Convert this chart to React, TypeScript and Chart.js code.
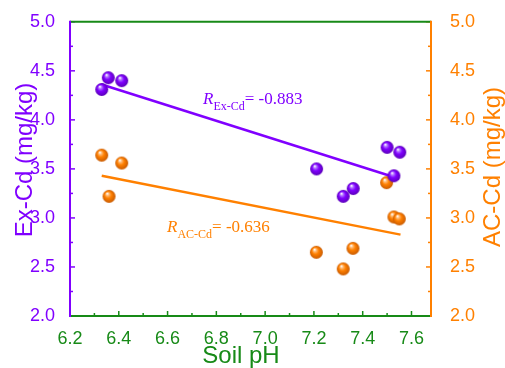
import React, { useEffect, useRef } from "react";
import { Chart, registerables } from "chart.js";
Chart.register(...registerables);

// Ex-Cd (left axis, purple)
const pHEx = [6.33, 6.357, 6.412, 7.211, 7.32, 7.361, 7.5, 7.528, 7.552];
const exCd = [4.31, 4.43, 4.4, 3.5, 3.22, 3.3, 3.72, 3.43, 3.67];
// AC-Cd (right axis, orange)
const pHAC = [6.33, 6.36, 6.412, 7.21, 7.32, 7.36, 7.498, 7.528, 7.55];
const acCd = [3.64, 3.22, 3.56, 2.65, 2.48, 2.69, 3.36, 3.01, 2.99];
// fitted lines (end points)
const exFitX = [6.33, 7.55];
const exFitY = [4.36, 3.4];
const acFitX = [6.33, 7.555];
const acFitY = [3.43, 2.83];
// ticks
const xTicks = [6.2, 6.4, 6.6, 6.8, 7.0, 7.2, 7.4, 7.6];
const xMinor = [6.3, 6.5, 6.7, 6.9, 7.1, 7.3, 7.5];
const yTicks = [2.0, 2.5, 3.0, 3.5, 4.0, 4.5, 5.0];
const yMinor = [2.25, 2.75, 3.25, 3.75, 4.25, 4.75];
const rEx = "-0.883";
const rAC = "-0.636";

const PURPLE = "#8000ff";
const ORANGE = "#ff8000";
const GREEN = "#178a17";

function makeBall(color: string, light: string, dark: string, r: number) {
  const c = document.createElement("canvas");
  const s = Math.ceil(2 * r + 2);
  c.width = s;
  c.height = s;
  const ctx = c.getContext("2d")!;
  const cx = s / 2, cy = s / 2;
  const g = ctx.createRadialGradient(cx - r * 0.3, cy - r * 0.45, r * 0.05, cx, cy, r);
  g.addColorStop(0, "#ffffff");
  g.addColorStop(0.22, light);
  g.addColorStop(0.5, color);
  g.addColorStop(1, dark);
  ctx.fillStyle = g;
  ctx.beginPath();
  ctx.arc(cx, cy, r, 0, Math.PI * 2);
  ctx.fill();
  return c;
}

const decorPlugin = {
  id: "decor",
  afterDraw(chart: any) {
    const ctx = chart.ctx;
    const { left, right, top, bottom } = chart.chartArea;
    const xs = chart.scales.x;
    const ys = chart.scales.y;
    ctx.save();
    ctx.lineCap = "butt";
    // ticks
    ctx.lineWidth = 1.5;
    ctx.strokeStyle = GREEN;
    xTicks.forEach((v) => {
      const px = xs.getPixelForValue(v);
      ctx.beginPath(); ctx.moveTo(px, bottom); ctx.lineTo(px, bottom - 5); ctx.stroke();
    });
    xMinor.forEach((v) => {
      const px = xs.getPixelForValue(v);
      ctx.beginPath(); ctx.moveTo(px, bottom); ctx.lineTo(px, bottom - 3); ctx.stroke();
    });
    ctx.strokeStyle = PURPLE;
    yTicks.forEach((v) => {
      const py = ys.getPixelForValue(v);
      ctx.beginPath(); ctx.moveTo(left, py); ctx.lineTo(left + 5, py); ctx.stroke();
    });
    yMinor.forEach((v) => {
      const py = ys.getPixelForValue(v);
      ctx.beginPath(); ctx.moveTo(left, py); ctx.lineTo(left + 3, py); ctx.stroke();
    });
    ctx.strokeStyle = ORANGE;
    yTicks.forEach((v) => {
      const py = ys.getPixelForValue(v);
      ctx.beginPath(); ctx.moveTo(right, py); ctx.lineTo(right - 5, py); ctx.stroke();
    });
    yMinor.forEach((v) => {
      const py = ys.getPixelForValue(v);
      ctx.beginPath(); ctx.moveTo(right, py); ctx.lineTo(right - 3, py); ctx.stroke();
    });
    // axis lines
    ctx.lineWidth = 2;
    ctx.strokeStyle = GREEN;
    ctx.beginPath(); ctx.moveTo(left, top); ctx.lineTo(right, top); ctx.stroke();
    ctx.beginPath(); ctx.moveTo(left, bottom); ctx.lineTo(right, bottom); ctx.stroke();
    ctx.strokeStyle = PURPLE;
    ctx.beginPath(); ctx.moveTo(left, top - 1); ctx.lineTo(left, bottom + 1); ctx.stroke();
    ctx.strokeStyle = ORANGE;
    ctx.beginPath(); ctx.moveTo(right, top - 1); ctx.lineTo(right, bottom + 1); ctx.stroke();

    // axis titles
    const tf = "24px 'Liberation Sans', Arial, sans-serif";
    ctx.font = tf;
    ctx.textAlign = "center";
    ctx.textBaseline = "alphabetic";
    ctx.fillStyle = GREEN;
    ctx.fillText("Soil pH", 241, 363);
    ctx.save();
    ctx.translate(31.5, 160);
    ctx.rotate(-Math.PI / 2);
    ctx.fillStyle = PURPLE;
    ctx.fillText("Ex-Cd (mg/kg)", 0, 0);
    ctx.restore();
    ctx.save();
    ctx.translate(499.5, 167);
    ctx.rotate(-Math.PI / 2);
    ctx.fillStyle = ORANGE;
    ctx.fillText("AC-Cd (mg/kg)", 0, 0);
    ctx.restore();

    // annotations
    const drawR = (x: number, y: number, sub: string, val: string, color: string) => {
      ctx.fillStyle = color;
      ctx.textAlign = "left";
      ctx.font = "italic 17px 'Liberation Serif', 'Times New Roman', serif";
      ctx.fillText("R", x, y);
      let cx = x + ctx.measureText("R").width;
      ctx.font = "12px 'Liberation Serif', 'Times New Roman', serif";
      ctx.fillText(sub, cx, y + 6);
      cx += ctx.measureText(sub).width;
      ctx.font = "17px 'Liberation Serif', 'Times New Roman', serif";
      ctx.fillText("= " + val, cx, y);
    };
    drawR(203, 104, "Ex-Cd", rEx, PURPLE);
    drawR(167, 232, "AC-Cd", rAC, ORANGE);
    ctx.restore();
  },
};

export default function App() {
  const ref = useRef<HTMLCanvasElement>(null);
  useEffect(() => {
    document.body.style.margin = "0";
    const purpleBall = makeBall(PURPLE, "#b070ff", "#5a00b8", 6.5);
    const orangeBall = makeBall(ORANGE, "#ffb870", "#c85a00", 6.5);
    const tickFont = { family: "'Liberation Sans', Arial, sans-serif", size: 18 };
    const setTicks = (vals: number[]) => (s: any) => {
      s.ticks = vals.map((v) => ({ value: v }));
    };
    const chart = new Chart(ref.current!, {
      type: "scatter",
      data: {
        datasets: [
          {
            type: "line",
            data: exFitX.map((x, i) => ({ x, y: exFitY[i] })),
            borderColor: PURPLE,
            borderWidth: 2.5,
            pointRadius: 0,
            yAxisID: "y",
            order: 2,
          } as any,
          {
            type: "line",
            data: acFitX.map((x, i) => ({ x, y: acFitY[i] })),
            borderColor: ORANGE,
            borderWidth: 2.5,
            pointRadius: 0,
            yAxisID: "y2",
            order: 2,
          } as any,
          {
            data: pHAC.map((x, i) => ({ x, y: acCd[i] })),
            pointStyle: orangeBall as any,
            pointRadius: 6.5,
            yAxisID: "y2",
            order: 1,
          },
          {
            data: pHEx.map((x, i) => ({ x, y: exCd[i] })),
            pointStyle: purpleBall as any,
            pointRadius: 6.5,
            yAxisID: "y",
            order: 0,
          },
        ],
      },
      options: {
        animation: false,
        responsive: false,
        layout: { padding: { top: 21, left: 0, right: 0, bottom: 0 } },
        plugins: { legend: { display: false }, tooltip: { enabled: false } },
        scales: {
          x: {
            type: "linear",
            min: 6.2,
            max: 7.68,
            grid: { display: false },
            border: { display: false },
            afterBuildTicks: setTicks(xTicks),
            afterFit: (s: any) => { s.height = 52; },
            ticks: {
              color: GREEN,
              font: tickFont,
              padding: 4,
              maxRotation: 0,
              autoSkip: false,
              callback: (v: any) => Number(v).toFixed(1),
            },
          },
          y: {
            type: "linear",
            position: "left",
            min: 2,
            max: 5,
            grid: { display: false },
            border: { display: false },
            afterBuildTicks: setTicks(yTicks),
            afterFit: (s: any) => { s.width = 70; },
            ticks: {
              color: PURPLE,
              font: tickFont,
              padding: 7,
              autoSkip: false,
              callback: (v: any) => Number(v).toFixed(1),
            },
          },
          y2: {
            type: "linear",
            position: "right",
            min: 2,
            max: 5,
            grid: { display: false },
            border: { display: false },
            afterBuildTicks: setTicks(yTicks),
            afterFit: (s: any) => { s.width = 74; },
            ticks: {
              color: ORANGE,
              font: tickFont,
              padding: 11,
              autoSkip: false,
              callback: (v: any) => Number(v).toFixed(1),
            },
          },
        },
      } as any,
      plugins: [decorPlugin],
    });
    return () => chart.destroy();
  }, []);
  return (
    <div style={{ width: 505, height: 368, background: "#fff" }}>
      <canvas ref={ref} width={505} height={368} style={{ display: "block" }} />
    </div>
  );
}
